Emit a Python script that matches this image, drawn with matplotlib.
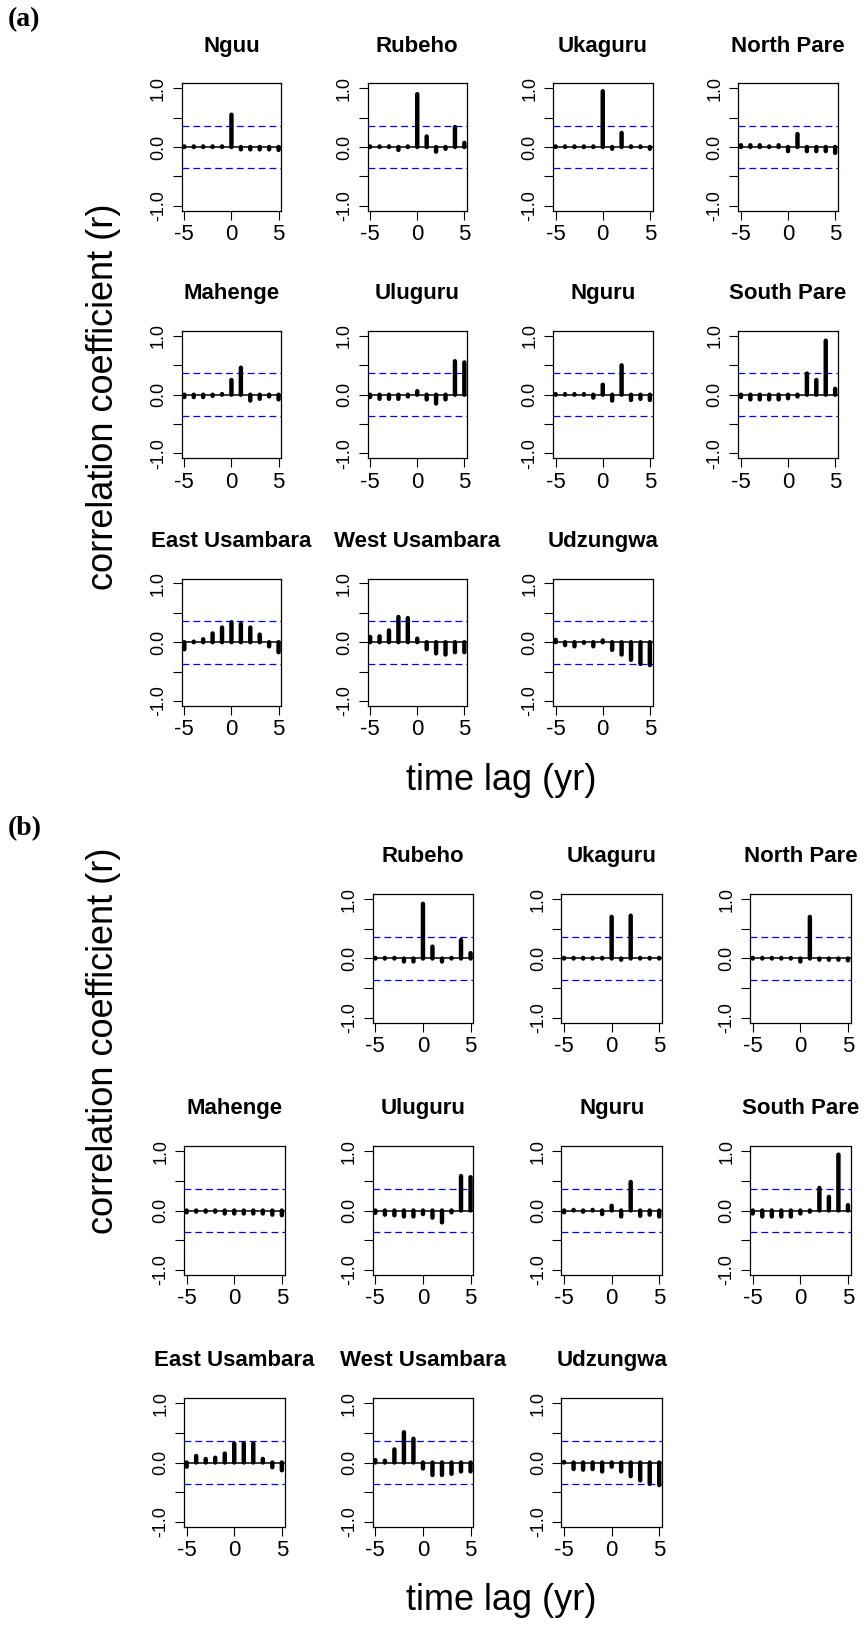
import matplotlib
matplotlib.use("Agg")
import matplotlib.pyplot as plt

plt.rcParams['font.family'] = ['Liberation Sans', 'DejaVu Sans']

lags = [-5, -4, -3, -2, -1, 0, 1, 2, 3, 4, 5]
ci = 0.365  # significance bounds (blue dashed)

# ---- (a) cross-correlations, lag -5..5 ----
a_nguu = [0.01, 0.01, 0.01, 0.01, 0.01, 0.55, -0.04, -0.04, -0.04, -0.04, -0.05]
a_rubeho = [0.01, 0.01, 0.01, -0.05, 0.01, 0.9, 0.18, -0.08, -0.03, 0.34, 0.07]
a_ukaguru = [0.01, 0.01, 0.01, 0.01, 0.01, 0.95, -0.03, 0.24, 0.01, 0.01, -0.03]
a_north_pare = [0.03, 0.03, 0.03, 0.01, 0.03, -0.07, 0.22, -0.07, -0.07, -0.07, -0.1]
a_mahenge = [-0.04, -0.04, -0.04, -0.02, 0.01, 0.25, 0.46, -0.1, -0.07, -0.03, -0.08]
a_uluguru = [-0.04, -0.07, -0.07, -0.07, -0.03, 0.06, -0.08, -0.15, -0.08, 0.57, 0.55]
a_nguru = [0.01, 0.01, 0.01, 0.01, -0.05, 0.17, -0.1, 0.5, -0.09, -0.07, -0.09]
a_south_pare = [-0.04, -0.08, -0.08, -0.08, -0.08, -0.06, -0.03, 0.36, 0.25, 0.92, 0.1]
a_east_usambara = [-0.12, 0.01, 0.05, 0.15, 0.25, 0.34, 0.31, 0.25, 0.13, -0.07, -0.17]
a_west_usambara = [0.09, 0.1, 0.2, 0.43, 0.41, 0.06, -0.12, -0.19, -0.21, -0.17, -0.17]
a_udzungwa = [0.04, -0.05, -0.07, -0.01, -0.07, 0.03, -0.13, -0.21, -0.3, -0.37, -0.39]

# ---- (b) ----
b_rubeho = [0.01, 0.01, 0.01, -0.05, -0.05, 0.92, 0.2, -0.05, 0.01, 0.31, 0.09]
b_ukaguru = [0.01, 0.01, 0.01, 0.01, 0.01, 0.7, -0.02, 0.72, 0.01, 0.01, 0.01]
b_north_pare = [0.01, 0.01, 0.01, 0.01, 0.01, -0.05, 0.7, -0.02, -0.02, -0.02, -0.03]
b_mahenge = [-0.03, -0.02, -0.02, -0.02, -0.05, -0.05, -0.05, -0.05, -0.05, -0.07, -0.08]
b_uluguru = [-0.04, -0.07, -0.08, -0.1, -0.1, -0.06, -0.12, -0.2, -0.03, 0.58, 0.56]
b_nguru = [-0.03, 0.01, -0.02, 0.01, -0.06, 0.08, -0.1, 0.48, -0.09, -0.07, -0.1]
b_south_pare = [-0.05, -0.1, -0.1, -0.1, -0.1, -0.05, -0.02, 0.38, 0.23, 0.94, 0.09]
b_east_usambara = [-0.07, 0.11, 0.06, 0.08, 0.15, 0.32, 0.32, 0.32, 0.06, -0.08, -0.13]
b_west_usambara = [0.04, 0.03, 0.22, 0.51, 0.4, -0.1, -0.21, -0.21, -0.19, -0.15, -0.15]
b_udzungwa = [0.01, -0.11, -0.12, -0.11, -0.15, -0.07, -0.15, -0.23, -0.3, -0.36, -0.38]

W, H = 866, 1625
fig = plt.figure(figsize=(W / 100, H / 100), dpi=100)


def panel(left, top, w, h, title, r):
    # left/top in pixels from the top-left corner
    ax = fig.add_axes([left / W, 1 - (top + h) / H, w / W, h / H])
    ax.axhline(0, color='black', lw=1.1)
    ax.axhline(ci, color='blue', lw=0.9, ls=(0, (5.5, 3.2)))
    ax.axhline(-ci, color='blue', lw=0.9, ls=(0, (5.5, 3.2)))
    # snap off so near-zero lags still show as round dots
    ax.vlines(lags, 0, r, colors='black', lw=3.2, capstyle='round', snap=False)
    ax.set_xlim(-5.28, 5.28)
    ax.set_ylim(-1.085, 1.085)
    ax.set_xticks([-5, 0, 5])
    ax.set_xticklabels(['-5', '0', '5'], fontsize=16)
    ax.set_yticks([-1, -0.5, 0, 0.5, 1])
    ax.set_yticklabels(['-1.0', '', '0.0', '', '1.0'], fontsize=13,
                       rotation=90, va='center')
    ax.tick_params(axis='x', direction='out', length=6.5, width=0.8, pad=3)
    ax.tick_params(axis='y', direction='out', length=6.5, width=0.8, pad=4)
    for s in ax.spines.values():
        s.set_linewidth(0.9)
    fig.text((left + w / 2) / W, 1 - (top - 31.7) / H, title,
             ha='center', va='baseline', fontsize=16, fontweight='bold')
    return ax


# (a) layout
cols_a = [181.7, 367.5, 553.0, 738.3]
rows_a = [83.3, 331.0, 578.5]
wa, ha_ = 99.5, 127.4
panels_a = [
    (0, 0, 'Nguu', a_nguu), (0, 1, 'Rubeho', a_rubeho),
    (0, 2, 'Ukaguru', a_ukaguru), (0, 3, 'North Pare', a_north_pare),
    (1, 0, 'Mahenge', a_mahenge), (1, 1, 'Uluguru', a_uluguru),
    (1, 2, 'Nguru', a_nguru), (1, 3, 'South Pare', a_south_pare),
    (2, 0, 'East Usambara', a_east_usambara),
    (2, 1, 'West Usambara', a_west_usambara),
    (2, 2, 'Udzungwa', a_udzungwa),
]
for row, col, name, r in panels_a:
    panel(cols_a[col], rows_a[row], wa, ha_, name, r)

# (b) layout
cols_b = [184.0, 372.7, 561.4, 750.1]
rows_b = [894.0, 1146.0, 1398.0]
wb, hb = 100.5, 129.0
panels_b = [
    (0, 1, 'Rubeho', b_rubeho), (0, 2, 'Ukaguru', b_ukaguru),
    (0, 3, 'North Pare', b_north_pare),
    (1, 0, 'Mahenge', b_mahenge), (1, 1, 'Uluguru', b_uluguru),
    (1, 2, 'Nguru', b_nguru), (1, 3, 'South Pare', b_south_pare),
    (2, 0, 'East Usambara', b_east_usambara),
    (2, 1, 'West Usambara', b_west_usambara),
    (2, 2, 'Udzungwa', b_udzungwa),
]
for row, col, name, r in panels_b:
    panel(cols_b[col], rows_b[row], wb, hb, name, r)

# shared labels
fig.text(104 / W, 1 - 397 / H, 'correlation coefficient (r)', rotation=90,
         ha='center', va='center', fontsize=26)
fig.text(501 / W, 1 - 780 / H, 'time lag (yr)', ha='center', va='center',
         fontsize=26)
fig.text(104 / W, 1 - 1041 / H, 'correlation coefficient (r)', rotation=90,
         ha='center', va='center', fontsize=26)
fig.text(501 / W, 1 - 1600 / H, 'time lag (yr)', ha='center', va='center',
         fontsize=26)

fig.text(8 / W, 1 - 20 / H, '(a)', ha='left', va='center', fontsize=20,
         fontweight='bold', family=['Liberation Serif', 'DejaVu Serif'])
fig.text(8 / W, 1 - 829 / H, '(b)', ha='left', va='center', fontsize=20,
         fontweight='bold', family=['Liberation Serif', 'DejaVu Serif'])

fig.savefig('out.png', dpi=100)
